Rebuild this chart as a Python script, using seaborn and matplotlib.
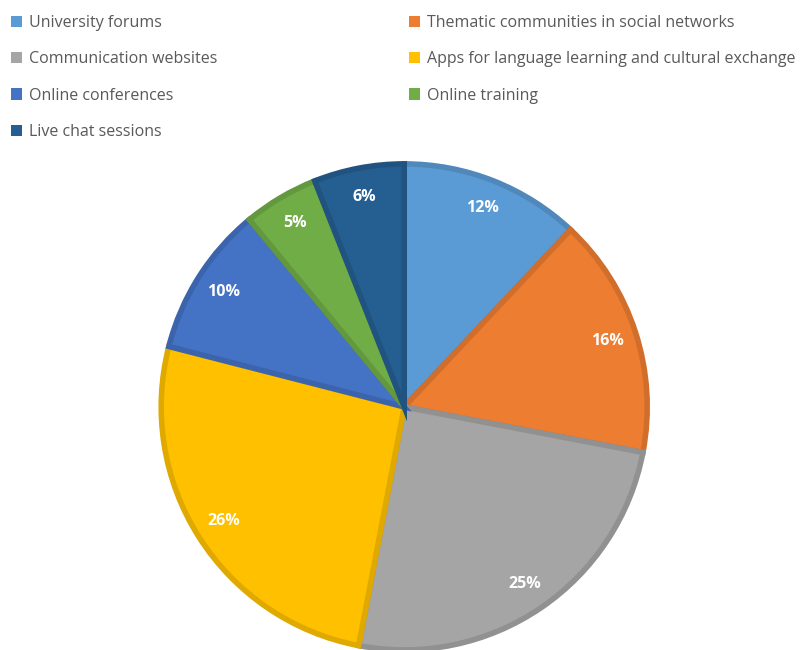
import matplotlib
matplotlib.use("Agg")
import matplotlib.pyplot as plt
import seaborn as sns
from matplotlib.patches import Patch
from matplotlib.colors import to_rgb

categories = ["University forums", "Thematic communities in social networks",
              "Communication websites", "Apps for language learning and cultural exchange",
              "Online conferences", "Online training", "Live chat sessions"]
values = [12, 16, 25, 26, 10, 5, 6]
colors = ["#5B9BD5", "#ED7D31", "#A5A5A5", "#FFC000", "#4472C4", "#70AD47", "#255E91"]

sns.set_theme(style="white")
plt.rcParams['font.family'] = ['Open Sans', 'DejaVu Sans']

def darker(c, f=0.88):
    r, g, b = to_rgb(c)
    return (r * f, g * f, b * f)

fig = plt.figure(figsize=(8.06, 6.5), dpi=100)
ax = fig.add_axes([0.2, 0.0, 0.603, 0.748])
wedges, texts, autotexts = ax.pie(
    values, colors=colors, startangle=90, counterclock=False,
    autopct=lambda p: f"{p:.0f}%", pctdistance=0.88,
    wedgeprops=dict(linewidth=4, joinstyle="miter"),
    textprops=dict(color="white", fontsize=11.5, fontweight="bold"))
for w, c in zip(wedges, colors):
    w.set_edgecolor(darker(c))
ax.set_xlim(-1.0, 1.0)
ax.set_ylim(-1.0, 1.0)
ax.set_aspect("equal")
ax.axis("off")

handles = [Patch(facecolor=c, edgecolor="none") for c in colors]
col1 = [0, 2, 4, 6]
col2 = [1, 3, 5]
for idx, x in ((col1, -0.004), (col2, 0.49)):
    leg = fig.legend([handles[i] for i in idx], [categories[i] for i in idx],
                     loc="upper left", bbox_to_anchor=(x, 0.999), frameon=False,
                     fontsize=11.5, handlelength=0.7, handleheight=0.7,
                     handletextpad=0.4, labelspacing=1.27, borderaxespad=0.5)
    for t in leg.get_texts():
        t.set_color("#595959")

fig.savefig("out.png", dpi=100)
